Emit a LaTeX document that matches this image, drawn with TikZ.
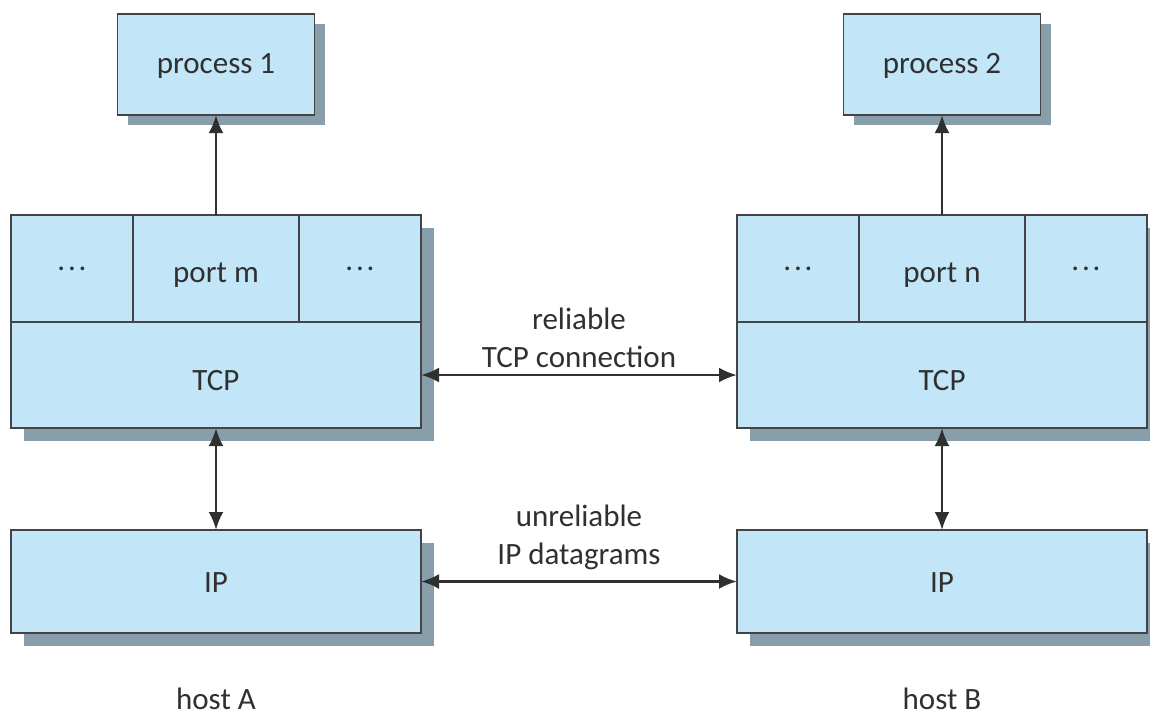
\documentclass[tikz,border=0pt]{standalone}
\usepackage{fontspec}
\setmainfont{Carlito}
\usetikzlibrary{arrows.meta,shadows}

\definecolor{boxfill}{HTML}{C2E6F8}
\definecolor{boxshade}{HTML}{889FAB}
\definecolor{edgegray}{HTML}{444444}
\definecolor{inkgray}{HTML}{303030}

\newcommand{\celldots}{\raisebox{12pt}{.\kern2.8pt.\kern2.8pt.}}

\begin{document}
\begin{tikzpicture}[x=1pt,y=-1pt,
  font=\fontsize{31}{38}\selectfont, text=inkgray,
  cell/.style={draw=edgegray, line width=1.6pt, fill=boxfill,
    inner sep=0pt, outer sep=0pt, text depth=0pt},
  th/.style={text height=#1},
  smallshadow/.style={general shadow={fill=boxshade, shadow xshift=10pt, shadow yshift=-10pt}},
  bigshadow/.style={general shadow={fill=boxshade, shadow xshift=13pt, shadow yshift=-13pt}},
  arr/.style={draw=inkgray, line width=2.8pt, -{Latex[length=18pt,width=15pt]}},
  dbl/.style={draw=inkgray, line width=2.8pt, {Latex[length=18pt,width=15pt]}-{Latex[length=18pt,width=15pt]}},
  caption/.style={text height=0.63em, text depth=0pt, inner sep=0pt},
  lbl/.style={align=center, inner sep=0pt}
]
\fill[white] (0,0) rectangle (1150,720);
\useasboundingbox (0,0) rectangle (1150,720);

% processes
\node[cell, smallshadow, th=17pt, minimum width=197pt, minimum height=101pt] (p1) at (216,64.5) {process 1};
\node[cell, smallshadow, th=17pt, minimum width=197pt, minimum height=101pt] (p2) at (942,64.5) {process 2};

% host A: port row over TCP layer
\node[cell, bigshadow, minimum width=410pt, minimum height=213pt] (blockA) at (216,321.5) {};
\node[cell, th=27pt, minimum width=122pt, minimum height=107pt] (dotsAl) at (72,268.5) {\celldots};
\node[cell, th=27pt, minimum width=166pt, minimum height=107pt] (portA) at (216,268.5) {port m};
\node[cell, th=27pt, minimum width=122pt, minimum height=107pt] (dotsAr) at (360,268.5) {\celldots};
\node[cell, th=31pt, minimum width=410pt, minimum height=106pt] (tcpA) at (216,375) {TCP};
\node[cell, bigshadow, th=22pt, minimum width=410pt, minimum height=103pt] (ipA) at (216,581.5) {IP};

% host B: port row over TCP layer
\node[cell, bigshadow, minimum width=410pt, minimum height=213pt] (blockB) at (942,321.5) {};
\node[cell, th=27pt, minimum width=122pt, minimum height=107pt] (dotsBl) at (798,268.5) {\celldots};
\node[cell, th=27pt, minimum width=166pt, minimum height=107pt] (portB) at (942,268.5) {port n};
\node[cell, th=27pt, minimum width=122pt, minimum height=107pt] (dotsBr) at (1086,268.5) {\celldots};
\node[cell, th=31pt, minimum width=410pt, minimum height=106pt] (tcpB) at (942,375) {TCP};
\node[cell, bigshadow, th=22pt, minimum width=410pt, minimum height=103pt] (ipB) at (942,581.5) {IP};

% connectors
\draw[arr] (portA.north) -- (p1.south);
\draw[arr] (portB.north) -- (p2.south);
\draw[dbl] (tcpA.south) -- (ipA.north);
\draw[dbl] (tcpB.south) -- (ipB.north);
\draw[dbl] (tcpA.east) -- (tcpB.west);
\draw[dbl] (ipA.east) -- (ipB.west);

% link labels
\node[lbl] (rel) at (579,338) {reliable\\TCP connection};
\node[lbl] (unrel) at (579,537) {unreliable\\IP datagrams};

% host captions
\node[caption] (hostA) at (216,706) {host A};
\node[caption] (hostB) at (942,706) {host B};
\end{tikzpicture}
\end{document}
